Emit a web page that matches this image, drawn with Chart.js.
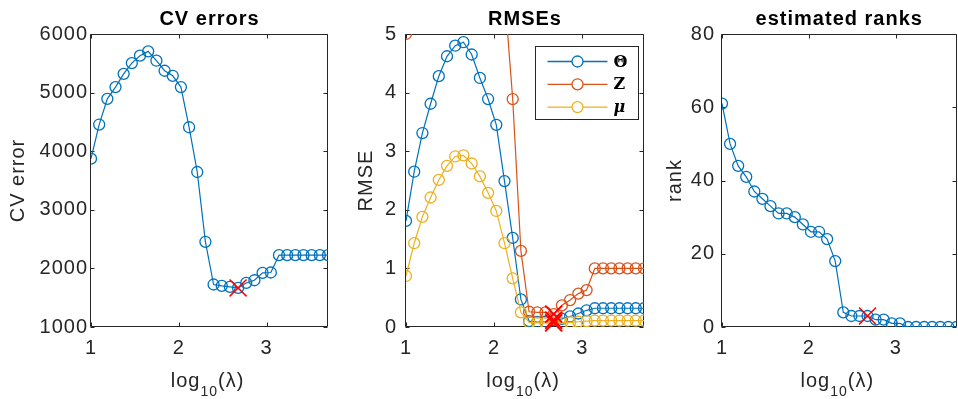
<!DOCTYPE html>
<html>
<head>
<meta charset="utf-8">
<title>Cross-validation over lambda</title>
<script src="https://cdn.jsdelivr.net/npm/chart.js@4.4.1/dist/chart.umd.min.js"></script>
<style>
  html, body { margin: 0; padding: 0; background: #fff; overflow: hidden; width: 958px; height: 399px; }
  canvas { position: absolute; top: 0; }
</style>
</head>
<body>
<canvas id="cvChart" width="360" height="399" style="left:0px"></canvas>
<canvas id="rmseChart" width="320" height="399" style="left:340px"></canvas>
<canvas id="rankChart" width="320" height="399" style="left:650px"></canvas>
<script>
// log10(lambda) grid shared by all three panels
const logLambda = [1.000, 1.093, 1.186, 1.279, 1.372, 1.465, 1.558, 1.651, 1.745, 1.838,
                   1.931, 2.024, 2.117, 2.210, 2.303, 2.396, 2.489, 2.582, 2.675, 2.768,
                   2.861, 2.954, 3.048, 3.141, 3.234, 3.327, 3.420, 3.513, 3.606, 3.699];

// cross-validation error per lambda
const cvError = [3873, 4455, 4894, 5094, 5320, 5504, 5630, 5704, 5544, 5373,
                 5287, 5094, 4409, 3645, 2454, 1725, 1701, 1684, 1667, 1752,
                 1798, 1923, 1930, 2226, 2226, 2226, 2226, 2226, 2226, 2226];

// RMSE of each estimated quantity
const rmseTheta = [1.81, 2.65, 3.31, 3.81, 4.28, 4.62, 4.80, 4.86, 4.65, 4.25,
                   3.89, 3.45, 2.49, 1.52, 0.47, 0.10, 0.085, 0.09, 0.115, 0.14,
                   0.18, 0.23, 0.285, 0.32, 0.32, 0.32, 0.32, 0.32, 0.32, 0.32];
const rmseZ = [5.00, 7.2, 8.6, 9.9, 11.1, 12.0, 12.5, 12.6, 11.6, 10.2,
               9.1, 7.9, 5.7, 3.89, 1.30, 0.26, 0.25, 0.25, 0.22, 0.37,
               0.46, 0.57, 0.63, 1.00, 1.00, 1.00, 1.00, 1.00, 1.00, 1.00];
const rmseMu = [0.87, 1.43, 1.88, 2.21, 2.51, 2.75, 2.91, 2.93, 2.79, 2.57,
                2.29, 1.98, 1.43, 0.83, 0.25, 0.08, 0.07, 0.07, 0.07, 0.07,
                0.08, 0.09, 0.10, 0.11, 0.11, 0.11, 0.11, 0.11, 0.11, 0.11];

// estimated rank per lambda
const estRank = [61, 50, 44, 41, 37, 35, 33, 31, 31, 30,
                 28, 26, 26, 24, 18, 4, 3, 3, 3, 2,
                 2, 1, 1, 0, 0, 0, 0, 0, 0, 0];

// tick labels
const xTicks = [1, 2, 3];
const cvTicks = [1000, 2000, 3000, 4000, 5000, 6000];
const rmseTicks = [0, 1, 2, 3, 4, 5];
const rankTicks = [0, 20, 40, 60, 80];

// legend entries of the RMSE panel
const seriesNames = ['Θ', 'Z', 'μ'];

// x-axis label pieces: base, subscript, argument
const xLabel = ['log', '10', '(λ)'];

const AXIS = '#262626';
const FONT = '"Liberation Sans", Arial, Helvetica, sans-serif';
const BLUE = '#0072BD', ORANGE = '#D95319', GOLD = '#EDB120', RED = '#FF0000';

// lambda chosen by cross-validation
const best = cvError.indexOf(Math.min(...cvError));

function pts(ys) { return logLambda.map((x, i) => ({ x, y: ys[i] })); }

function series(ys, color, extra) {
  return Object.assign({
    data: pts(ys), borderColor: color, borderWidth: 1.2, tension: 0, fill: false,
    pointStyle: 'circle', pointRadius: 5.5, pointBorderWidth: 1.3,
    pointBorderColor: color, pointBackgroundColor: 'rgba(0,0,0,0)'
  }, extra || {});
}

function chosen(ys, width) {
  return {
    data: [{ x: logLambda[best], y: ys[best] }], showLine: false, clip: false, order: 0,
    pointStyle: 'crossRot', pointRadius: 12, pointBorderWidth: width || 1.5,
    pointBorderColor: RED, borderColor: RED, pointBackgroundColor: 'rgba(0,0,0,0)'
  };
}

// axes box with inward ticks on all four sides
const axisBox = {
  id: 'axisBox',
  beforeDatasetsDraw(chart) {
    const { ctx, chartArea: a, scales: { x, y } } = chart;
    const L = 4;
    const l = Math.round(a.left) - 0.5, r = Math.round(a.right) - 0.5;
    const t = Math.round(a.top) + 0.5, b = Math.round(a.bottom) - 0.5;
    ctx.save();
    ctx.strokeStyle = AXIS;
    ctx.lineWidth = 1;
    ctx.beginPath();
    ctx.rect(l, t, r - l, b - t);
    x.ticks.forEach(tk => {
      const p = Math.round(x.getPixelForValue(tk.value)) + 0.5;
      ctx.moveTo(p, b); ctx.lineTo(p, b - L);
      ctx.moveTo(p, t); ctx.lineTo(p, t + L);
    });
    y.ticks.forEach(tk => {
      const p = Math.round(y.getPixelForValue(tk.value)) + 0.5;
      ctx.moveTo(l, p); ctx.lineTo(l + L, p);
      ctx.moveTo(r, p); ctx.lineTo(r - L, p);
    });
    ctx.stroke();
    ctx.restore();
  }
};

// x-axis label with a lowered subscript
const subLabel = {
  id: 'subLabel',
  afterDraw(chart) {
    const { ctx, chartArea: a } = chart;
    const big = '20px ' + FONT, small = '14px ' + FONT;
    ctx.save();
    ctx.letterSpacing = '1px';
    ctx.fillStyle = AXIS;
    ctx.textBaseline = 'alphabetic';
    ctx.textAlign = 'left';
    ctx.font = big;
    const w0 = ctx.measureText(xLabel[0]).width;
    const w2 = ctx.measureText(xLabel[2]).width;
    ctx.font = small;
    const w1 = ctx.measureText(xLabel[1]).width;
    let x = (a.left + a.right) / 2 - (w0 + w1 + w2) / 2 - 2;
    const base = a.bottom + 59.5;
    ctx.font = big;
    ctx.fillText(xLabel[0], x, base);
    x += w0;
    ctx.font = small;
    ctx.fillText(xLabel[1], x, base + 9.5);
    x += w1;
    ctx.font = big;
    ctx.fillText(xLabel[2], x, base);
    ctx.restore();
  }
};

// boxed key: line with a hollow circle, then the symbol
const seriesKey = {
  id: 'seriesKey',
  afterDraw(chart, args, o) {
    if (!o || !o.items) return;
    const { ctx, chartArea: a } = chart;
    const x0 = Math.round(a.right - o.right - o.width) + 0.5;
    const y0 = Math.round(a.top + o.top) + 0.5;
    ctx.save();
    ctx.letterSpacing = '0px';
    ctx.fillStyle = '#fff';
    ctx.fillRect(x0, y0, o.width, o.height);
    ctx.strokeStyle = AXIS;
    ctx.lineWidth = 1;
    ctx.strokeRect(x0, y0, o.width, o.height);
    o.items.forEach((it, i) => {
      const yy = y0 + o.firstRow + i * o.rowGap;
      ctx.strokeStyle = it.color;
      ctx.lineWidth = 1.3;
      ctx.beginPath();
      ctx.moveTo(x0 + 12, yy); ctx.lineTo(x0 + 72, yy);
      ctx.stroke();
      ctx.beginPath();
      ctx.arc(x0 + 42, yy, 5.5, 0, Math.PI * 2);
      ctx.fillStyle = '#fff';
      ctx.fill();
      ctx.stroke();
      ctx.fillStyle = '#000';
      ctx.font = it.font;
      ctx.textBaseline = 'middle';
      ctx.textAlign = 'left';
      ctx.fillText(it.label, x0 + 78, yy + 1);
    });
    ctx.restore();
  }
};

// slightly wider text tracking
const textSpacing = {
  id: 'textSpacing',
  beforeDraw(chart) { chart.ctx.letterSpacing = '1px'; }
};

function makePanel(id, o) {
  return new Chart(document.getElementById(id), {
    type: 'line',
    data: { datasets: o.datasets },
    options: {
      responsive: false, animation: false, events: [], devicePixelRatio: 1,
      layout: { padding: { left: 0, top: 0, right: o.padRight, bottom: 0 } },
      plugins: {
        legend: { display: false },
        tooltip: { enabled: false },
        title: {
          display: true, text: o.title, color: '#000', fullSize: false,
          font: { family: FONT, size: 20, weight: 'bold' },
          padding: { top: 7, bottom: 3 }
        },
        seriesKey: o.key || {}
      },
      scales: {
        x: {
          type: 'linear', min: xTicks[0], max: logLambda[logLambda.length - 1],
          afterBuildTicks: s => { s.ticks = xTicks.map(v => ({ value: v })); },
          afterFit: s => { s.height = 72; },
          grid: { display: false, drawTicks: false },
          border: { display: false },
          ticks: {
            color: AXIS, font: { family: FONT, size: 20 }, padding: 9,
            maxRotation: 0, autoSkip: false, callback: v => String(v)
          },
          title: { display: false }
        },
        y: {
          type: 'linear', min: o.yTicks[0], max: o.yTicks[o.yTicks.length - 1],
          afterBuildTicks: s => { s.ticks = o.yTicks.map(v => ({ value: v })); },
          afterFit: s => { s.width = o.yWidth; },
          grid: { display: false, drawTicks: false },
          border: { display: false },
          ticks: {
            color: AXIS, font: { family: FONT, size: 20 }, padding: o.tickPad,
            autoSkip: false, callback: v => String(v)
          },
          title: {
            display: true, text: o.yTitle, color: AXIS,
            font: { family: FONT, size: 20 }, padding: { top: o.titlePad, bottom: 0 }
          }
        }
      }
    },
    plugins: [axisBox, seriesKey, subLabel, textSpacing]
  });
}

makePanel('cvChart', {
  title: 'CV errors', yTitle: 'CV error', yTicks: cvTicks,
  yWidth: 91, padRight: 32, tickPad: 3, titlePad: 6.4,
  datasets: [chosen(cvError), series(cvError, BLUE, { order: 1 })]
});

const rmseTop = rmseTicks[rmseTicks.length - 1];
makePanel('rmseChart', {
  title: 'RMSEs', yTitle: 'RMSE', yTicks: rmseTicks,
  yWidth: 66, padRight: 16, tickPad: 9, titlePad: 14.7,
  datasets: [
    chosen(rmseTheta, 2), chosen(rmseZ, 2), chosen(rmseMu, 2),
    series(rmseMu, GOLD, { order: 1 }),
    series(rmseZ.map(v => (v <= rmseTop ? v : null)), ORANGE, { order: 2, showLine: false }),
    series(rmseZ, ORANGE, { order: 2, pointRadius: 0, clip: { left: 8, right: 8, top: 0, bottom: 8 } }),
    series(rmseTheta, BLUE, { order: 3 })
  ],
  key: {
    right: 6, top: 12, width: 103, height: 73, firstRow: 15, rowGap: 22.8,
    items: [
      { label: seriesNames[0], color: BLUE, font: 'bold 16px "DejaVu Serif", serif' },
      { label: seriesNames[1], color: ORANGE, font: 'bold 16px "DejaVu Serif", serif' },
      { label: seriesNames[2], color: GOLD, font: 'italic bold 16px "DejaVu Serif", serif' }
    ]
  }
});

makePanel('rankChart', {
  title: 'estimated ranks', yTitle: 'rank', yTicks: rankTicks,
  yWidth: 72, padRight: 10, tickPad: 7, titlePad: 13,
  datasets: [chosen(estRank), series(estRank, BLUE, { order: 1 })]
});
</script>
</body>
</html>
